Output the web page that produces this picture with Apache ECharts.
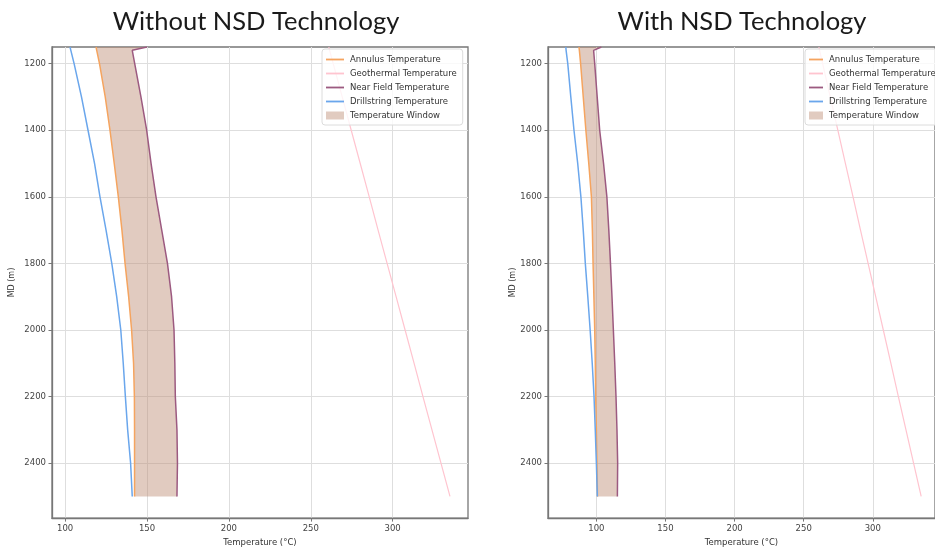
<!DOCTYPE html>
<html>
<head>
<meta charset="utf-8">
<script src="https://cdn.jsdelivr.net/npm/echarts@6/dist/echarts.min.js"></script>
<style>
  html, body { margin: 0; padding: 0; background: #fff; }
  #main { width: 935px; height: 552px; }
</style>
</head>
<body>
<div id="main"></div>
<script>
// depth points (m MD), shared by every curve
const depths = [1150, 1160, 1200, 1300, 1400, 1500, 1600, 1700, 1800, 1900, 2000, 2100, 2200, 2300, 2400, 2500];

// Without NSD Technology (°C)
const annulusA    = [118.9, 119.3, 121.0, 124.5, 127.4, 130.0, 132.5, 134.7, 136.6, 138.8, 140.6, 141.8, 142.3, 142.4, 142.4, 142.4];
const geothermA   = [261.0, 261.5, 263.7, 269.2, 274.7, 280.2, 285.7, 291.1, 296.6, 302.1, 307.6, 313.1, 318.5, 324.0, 329.5, 335.0];
const nearFieldA  = [150.0, 141.0, 142.5, 146.3, 149.8, 152.5, 155.5, 159.0, 162.5, 165.0, 166.5, 167.0, 167.3, 168.3, 168.6, 168.3];
const drillA      = [103.0, 103.5, 105.5, 110.0, 114.0, 118.0, 121.3, 125.0, 128.5, 131.5, 134.0, 135.5, 136.8, 138.2, 140.0, 141.0];

// With NSD Technology (°C)
const annulusB    = [87.4, 87.7, 88.6, 90.5, 92.4, 94.5, 96.4, 97.1, 97.6, 98.2, 98.8, 99.2, 99.5, 100.0, 100.4, 100.8];
const geothermB   = [261.0, 261.5, 263.7, 269.2, 274.7, 280.2, 285.7, 291.1, 296.6, 302.1, 307.6, 313.1, 318.5, 324.0, 329.5, 335.0];
const nearFieldB  = [103.6, 98.0, 98.8, 100.6, 102.4, 105.2, 107.6, 109.0, 110.2, 111.3, 112.3, 113.3, 114.2, 114.9, 115.4, 115.2];
const drillB      = [77.9, 78.1, 79.3, 81.5, 83.8, 86.5, 88.8, 90.5, 92.0, 93.8, 95.5, 97.0, 98.3, 99.2, 100.0, 100.7];

const tempTicks  = [100, 150, 200, 250, 300];
const depthTicks = [1200, 1400, 1600, 1800, 2000, 2200, 2400];

const names = ['Annulus Temperature', 'Geothermal Temperature', 'Near Field Temperature', 'Drillstring Temperature', 'Temperature Window'];
const colors = ['#f5a45f', '#ffc4cf', '#9c5a80', '#6aa6ec'];
const WINDOW_FILL = 'rgba(188,140,115,0.45)';

const pairs = (temps) => temps.map((t, i) => [t, depths[i]]);

function lineSeries(idx, name, temps, color, width) {
  return {
    name: name,
    type: 'line',
    xAxisIndex: idx,
    yAxisIndex: idx,
    symbol: 'none',
    data: pairs(temps),
    lineStyle: { color: color, width: width },
    itemStyle: { color: color },
    silent: true
  };
}

function windowSeries(idx, annulus, nearField) {
  return {
    name: names[4],
    type: 'custom',
    xAxisIndex: idx,
    yAxisIndex: idx,
    clip: true,
    data: [[annulus[0], depths[0]]],
    itemStyle: { color: WINDOW_FILL },
    renderItem: function (params, api) {
      const pts = [];
      for (let i = 0; i < depths.length; i++) pts.push(api.coord([annulus[i], depths[i]]));
      for (let i = depths.length - 1; i >= 0; i--) pts.push(api.coord([nearField[i], depths[i]]));
      return { type: 'polygon', shape: { points: pts }, style: { fill: WINDOW_FILL } };
    }
  };
}

const labelFont = { fontFamily: 'DejaVu Sans', fontSize: 8.5, color: '#444' };

function xAxis(idx, min, max) {
  return {
    type: 'value', gridIndex: idx, min: min, max: max,
    name: 'Temperature (°C)', nameLocation: 'middle', nameGap: 17,
    nameTextStyle: { fontFamily: 'DejaVu Sans', fontSize: 8.5, color: '#333' },
    axisLine: { lineStyle: { color: '#777', width: 1.3 } },
    axisTick: { customValues: tempTicks, length: 3.5, lineStyle: { color: '#777' } },
    axisLabel: Object.assign({ customValues: tempTicks, margin: 6, formatter: v => String(v) }, labelFont),
    splitLine: { show: true, lineStyle: { color: '#dedede', width: 1 } }
  };
}

function yAxis(idx, gap) {
  return {
    type: 'value', gridIndex: idx, min: 1150, max: 2565, inverse: true,
    name: 'MD (m)', nameLocation: 'middle', nameGap: gap, nameRotate: 90,
    nameTextStyle: { fontFamily: 'DejaVu Sans', fontSize: 8, color: '#333' },
    axisLine: { lineStyle: { color: '#777', width: 1.3 } },
    axisTick: { customValues: depthTicks, length: 3.5, lineStyle: { color: '#777' } },
    axisLabel: Object.assign({ customValues: depthTicks, margin: 6, formatter: v => String(v) }, labelFont),
    splitLine: { show: true, lineStyle: { color: '#dedede', width: 1 } }
  };
}

function legend(left, iconW) {
  const lineIcon = 'path://M0,0H' + iconW + 'V1.8H0Z';
  return {
    orient: 'vertical', left: left, top: 49,
    padding: [6, 6, 5, 4], itemGap: 5, itemWidth: iconW, itemHeight: 8,
    backgroundColor: 'rgba(255,255,255,0.8)', borderColor: '#dcdcdc', borderWidth: 1, borderRadius: 3,
    textStyle: { fontFamily: 'DejaVu Sans', fontSize: 8.5, color: '#333', padding: [0, 0, 0, 1] },
    selectedMode: false,
    data: names.slice(0, 4).map(n => ({ name: n, icon: lineIcon }))
      .concat([{ name: names[4], icon: 'rect', itemStyle: { color: WINDOW_FILL } }])
  };
}

const chart = echarts.init(document.getElementById('main'));
chart.setOption({
  animation: false,
  backgroundColor: '#fff',
  graphic: [
    { type: 'text', x: 256, y: 9, style: { text: 'Without NSD Technology', align: 'center', fill: '#1a1a1a', font: '25.5px Lato' } },
    { type: 'text', x: 742, y: 9, style: { text: 'With NSD Technology', align: 'center', fill: '#1a1a1a', font: '25.5px Lato' } }
  ],
  grid: [
    { left: 52, top: 47, width: 416, height: 473, show: true, borderColor: '#777', borderWidth: 1.3 },
    { left: 548, top: 47, width: 393, height: 477, show: true, borderColor: '#777', borderWidth: 1.3 }
  ],
  xAxis: [xAxis(0, 92, 346), xAxis(1, 65, 345)],
  yAxis: [yAxis(0, 36), yAxis(1, 29)],
  legend: [legend(322, 18), legend(805, 14)],
  series: [
    lineSeries(0, names[0], annulusA, colors[0], 1.5),
    lineSeries(0, names[1], geothermA, colors[1], 1.2),
    lineSeries(0, names[2], nearFieldA, colors[2], 1.5),
    lineSeries(0, names[3], drillA, colors[3], 1.5),
    windowSeries(0, annulusA, nearFieldA),
    lineSeries(1, names[0], annulusB, colors[0], 1.5),
    lineSeries(1, names[1], geothermB, colors[1], 1.2),
    lineSeries(1, names[2], nearFieldB, colors[2], 1.5),
    lineSeries(1, names[3], drillB, colors[3], 1.5),
    windowSeries(1, annulusB, nearFieldB)
  ]
});
</script>
</body>
</html>
